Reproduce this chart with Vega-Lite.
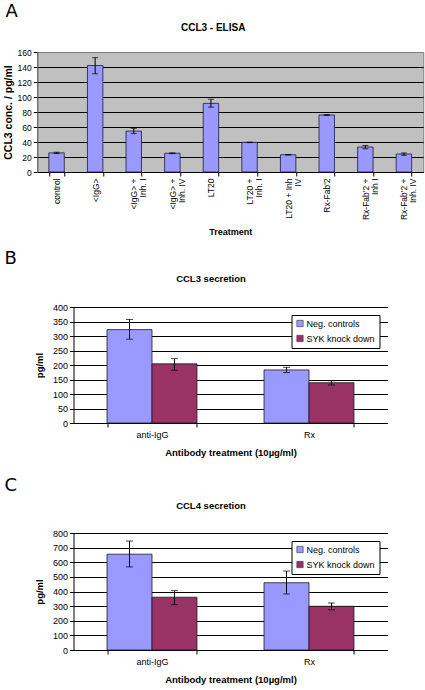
{
  "$schema": "https://vega.github.io/schema/vega-lite/v6.json",
  "padding": {"left": 2, "top": 2, "right": 2, "bottom": 2},
  "background": "white",
  "center": true,
  "spacing": 11,
  "resolve": {"scale": {"x": "independent", "y": "independent", "color": "independent", "xOffset": "independent"}, "legend": {"color": "independent"}, "axis": {"x": "independent", "y": "independent"}},
  "config": {
    "font": "Liberation Sans",
    "view": {"stroke": null},
    "axis": {
      "labelFont": "Liberation Sans", "titleFont": "Liberation Sans",
      "labelColor": "#000", "titleColor": "#000", "tickColor": "#000", "domainColor": "#000",
      "gridColor": "#000", "gridOpacity": 1, "gridWidth": 1, "tickSize": 4, "tickWidth": 1, "domainWidth": 1,
      "titleFontWeight": "bold", "labelPadding": 2
    },
    "title": {"font": "Liberation Sans", "color": "#000"},
    "legend": {"labelFont": "Liberation Sans", "labelColor": "#000"}
  },
  "vconcat": [
    {
      "title": {"text": "A", "anchor": "start", "font": "DejaVu Sans", "fontSize": 18, "fontWeight": "normal", "dx": 3, "offset": 2},
      "resolve": {"scale": {"color": "independent"}, "legend": {"color": "independent"}},
      "vconcat": [
        {
          "title": {"text": "CCL3 - ELISA", "frame": "bounds", "anchor": "middle", "fontSize": 10, "fontWeight": "bold", "offset": 15},
          "width": 386,
          "height": 120,
          "view": {"fill": "#c0c0c0", "stroke": "#808080"},
          "data": {"values": [
            {"treatment": "control", "value": 25.5, "lo": 24.6, "hi": 26.4},
            {"treatment": "<IgG>", "value": 142, "lo": 131, "hi": 152.5},
            {"treatment": "<IgG> +\nInh. I", "value": 54.5, "lo": 51.2, "hi": 58.2},
            {"treatment": "<IgG> +\nInh. IV", "value": 25, "lo": 24.5, "hi": 25.5},
            {"treatment": "LT20", "value": 91.5, "lo": 86.5, "hi": 97},
            {"treatment": "LT20 +\nInh. I", "value": 39.5, "lo": 39.2, "hi": 39.8},
            {"treatment": "LT20 + Inh\nIV", "value": 23, "lo": 22.6, "hi": 23.4},
            {"treatment": "Rx-Fab'2", "value": 76, "lo": 75.5, "hi": 76.5},
            {"treatment": "Rx-Fab'2 +\nInh I", "value": 33.3, "lo": 31, "hi": 35.4},
            {"treatment": "Rx-Fab'2 +\nInh. IV", "value": 24, "lo": 22.3, "hi": 25.4}
          ]},
          "encoding": {
            "x": {
              "field": "treatment", "type": "nominal", "sort": null,
              "scale": {"paddingInner": 0.6, "paddingOuter": 0.3},
              "axis": {"title": "Treatment", "titleFontSize": 9, "titlePadding": 8, "labelAngle": -90, "labelExpr": "split(datum.label, '\\n')", "labelFontSize": 8.5, "labelLineHeight": 9, "tickBand": "extent", "labelPadding": 2, "labelLimit": 0}
            }
          },
          "layer": [
            {
              "mark": {"type": "bar", "fill": "#9999ff", "stroke": "#1a1a40", "strokeWidth": 0.8},
              "encoding": {"y": {"field": "value", "type": "quantitative", "title": "CCL3 conc. / pg/ml", "scale": {"domain": [0, 160], "nice": false}, "axis": {"values": [0, 20, 40, 60, 80, 100, 120, 140, 160], "grid": true, "gridColor": {"condition": {"test": "datum.value == 160", "value": "#808080"}, "value": "#000"}, "domainColor": "#606060", "labelFontSize": 8.5, "titleFontSize": 10.5, "titlePadding": 4}}}
            },
            {
              "mark": {"type": "rule", "color": "#000", "strokeWidth": 1},
              "encoding": {"y": {"field": "lo", "type": "quantitative", "title": "CCL3 conc. / pg/ml", "axis": {"values": [0, 20, 40, 60, 80, 100, 120, 140, 160], "grid": true, "gridColor": {"condition": {"test": "datum.value == 160", "value": "#808080"}, "value": "#000"}, "domainColor": "#606060", "labelFontSize": 8.5, "titleFontSize": 10.5, "titlePadding": 4}}, "y2": {"field": "hi"}}
            },
            {
              "mark": {"type": "tick", "color": "#000", "size": 6, "thickness": 1},
              "encoding": {"y": {"field": "lo", "type": "quantitative", "title": "CCL3 conc. / pg/ml", "axis": {"values": [0, 20, 40, 60, 80, 100, 120, 140, 160], "grid": true, "gridColor": {"condition": {"test": "datum.value == 160", "value": "#808080"}, "value": "#000"}, "domainColor": "#606060", "labelFontSize": 8.5, "titleFontSize": 10.5, "titlePadding": 4}}}
            },
            {
              "mark": {"type": "tick", "color": "#000", "size": 6, "thickness": 1},
              "encoding": {"y": {"field": "hi", "type": "quantitative", "title": "CCL3 conc. / pg/ml", "axis": {"values": [0, 20, 40, 60, 80, 100, 120, 140, 160], "grid": true, "gridColor": {"condition": {"test": "datum.value == 160", "value": "#808080"}, "value": "#000"}, "domainColor": "#606060", "labelFontSize": 8.5, "titleFontSize": 10.5, "titlePadding": 4}}}
            }
          ]
        }
      ]
    },
    {
      "spacing": 19,
      "resolve": {"scale": {"x": "independent", "y": "independent", "color": "independent", "xOffset": "independent"}, "legend": {"color": "independent"}, "axis": {"x": "independent", "y": "independent"}},
      "vconcat": [
        {
          "title": {"text": "B", "anchor": "start", "font": "DejaVu Sans", "fontSize": 18, "fontWeight": "normal", "dx": -30, "offset": 6},
          "resolve": {"scale": {"color": "independent"}, "legend": {"color": "independent"}},
          "vconcat": [
            {
              "title": {"text": "CCL3 secretion", "frame": "bounds", "anchor": "middle", "fontSize": 9.5, "fontWeight": "bold", "offset": 20},
              "width": 314,
              "height": 116,
              "data": {"values": [
                {"antibody": "anti-IgG", "series": "Neg. controls", "value": 322, "lo": 289, "hi": 357},
                {"antibody": "anti-IgG", "series": "SYK knock down", "value": 204, "lo": 182, "hi": 222},
                {"antibody": "Rx", "series": "Neg. controls", "value": 183, "lo": 174, "hi": 192},
                {"antibody": "Rx", "series": "SYK knock down", "value": 139, "lo": 131, "hi": 146}
              ]},
              "encoding": {
                "x": {
                  "field": "antibody", "type": "nominal", "sort": null,
                  "scale": {"paddingInner": 0.427, "paddingOuter": 0.2135},
                  "axis": {"title": "Antibody treatment (10µg/ml)", "titleFontSize": 9.5, "titlePadding": 8, "labelAngle": 0, "labelFontSize": 9, "tickBand": "extent", "labelPadding": 3}
                },
                "xOffset": {"field": "series", "type": "nominal", "sort": null, "scale": {"paddingInner": 0, "paddingOuter": 0}}
              },
              "layer": [
                {
                  "mark": {"type": "bar", "stroke": "#1a1a1a", "strokeWidth": 0.8},
                  "encoding": {
                    "y": {"field": "value", "type": "quantitative", "title": "pg/ml", "scale": {"domain": [0, 400], "nice": false}, "axis": {"values": [0, 50, 100, 150, 200, 250, 300, 350, 400], "grid": true, "labelFontSize": 9, "titleFontSize": 9.5, "titlePadding": 8}},
                    "color": {"field": "series", "type": "nominal", "sort": null, "scale": {"domain": ["Neg. controls", "SYK knock down"], "range": ["#9999ff", "#993366"]}, "legend": {"title": null, "orient": "top-right", "offset": 8, "fillColor": "white", "strokeColor": "#000", "padding": 4, "labelFontSize": 9, "symbolType": "square", "symbolSize": 40, "symbolStrokeColor": "#333", "symbolStrokeWidth": 0.6, "rowPadding": 5, "labelOffset": 2, "cornerRadius": 0}}
                  }
                },
                {
                  "mark": {"type": "rule", "color": "#000", "strokeWidth": 1},
                  "encoding": {"y": {"field": "lo", "type": "quantitative", "title": "pg/ml", "axis": {"values": [0, 50, 100, 150, 200, 250, 300, 350, 400], "grid": true, "labelFontSize": 9, "titleFontSize": 9.5, "titlePadding": 8}}, "y2": {"field": "hi"}}
                },
                {
                  "mark": {"type": "tick", "color": "#000", "size": 7, "thickness": 1},
                  "encoding": {"y": {"field": "lo", "type": "quantitative", "title": "pg/ml", "axis": {"values": [0, 50, 100, 150, 200, 250, 300, 350, 400], "grid": true, "labelFontSize": 9, "titleFontSize": 9.5, "titlePadding": 8}}}
                },
                {
                  "mark": {"type": "tick", "color": "#000", "size": 7, "thickness": 1},
                  "encoding": {"y": {"field": "hi", "type": "quantitative", "title": "pg/ml", "axis": {"values": [0, 50, 100, 150, 200, 250, 300, 350, 400], "grid": true, "labelFontSize": 9, "titleFontSize": 9.5, "titlePadding": 8}}}
                }
              ]
            }
          ]
        },
        {
          "title": {"text": "C", "anchor": "start", "font": "DejaVu Sans", "fontSize": 18, "fontWeight": "normal", "dx": -30, "offset": 6},
          "resolve": {"scale": {"color": "independent"}, "legend": {"color": "independent"}},
          "vconcat": [
            {
              "title": {"text": "CCL4 secretion", "frame": "bounds", "anchor": "middle", "fontSize": 9.5, "fontWeight": "bold", "offset": 19},
              "width": 314,
              "height": 117,
              "data": {"values": [
                {"antibody": "anti-IgG", "series": "Neg. controls", "value": 655, "lo": 568, "hi": 745},
                {"antibody": "anti-IgG", "series": "SYK knock down", "value": 361, "lo": 310, "hi": 406},
                {"antibody": "Rx", "series": "Neg. controls", "value": 460, "lo": 383, "hi": 540},
                {"antibody": "Rx", "series": "SYK knock down", "value": 299, "lo": 276, "hi": 322}
              ]},
              "encoding": {
                "x": {
                  "field": "antibody", "type": "nominal", "sort": null,
                  "scale": {"paddingInner": 0.427, "paddingOuter": 0.2135},
                  "axis": {"title": "Antibody treatment (10µg/ml)", "titleFontSize": 9.5, "titlePadding": 8, "labelAngle": 0, "labelFontSize": 9, "tickBand": "extent", "labelPadding": 3}
                },
                "xOffset": {"field": "series", "type": "nominal", "sort": null, "scale": {"paddingInner": 0, "paddingOuter": 0}}
              },
              "layer": [
                {
                  "mark": {"type": "bar", "stroke": "#1a1a1a", "strokeWidth": 0.8},
                  "encoding": {
                    "y": {"field": "value", "type": "quantitative", "title": "pg/ml", "scale": {"domain": [0, 800], "nice": false}, "axis": {"values": [0, 100, 200, 300, 400, 500, 600, 700, 800], "grid": true, "labelFontSize": 9, "titleFontSize": 9.5, "titlePadding": 8}},
                    "color": {"field": "series", "type": "nominal", "sort": null, "scale": {"domain": ["Neg. controls", "SYK knock down"], "range": ["#9999ff", "#993366"]}, "legend": {"title": null, "orient": "top-right", "offset": 8, "fillColor": "white", "strokeColor": "#000", "padding": 4, "labelFontSize": 9, "symbolType": "square", "symbolSize": 40, "symbolStrokeColor": "#333", "symbolStrokeWidth": 0.6, "rowPadding": 5, "labelOffset": 2, "cornerRadius": 0}}
                  }
                },
                {
                  "mark": {"type": "rule", "color": "#000", "strokeWidth": 1},
                  "encoding": {"y": {"field": "lo", "type": "quantitative", "title": "pg/ml", "axis": {"values": [0, 100, 200, 300, 400, 500, 600, 700, 800], "grid": true, "labelFontSize": 9, "titleFontSize": 9.5, "titlePadding": 8}}, "y2": {"field": "hi"}}
                },
                {
                  "mark": {"type": "tick", "color": "#000", "size": 7, "thickness": 1},
                  "encoding": {"y": {"field": "lo", "type": "quantitative", "title": "pg/ml", "axis": {"values": [0, 100, 200, 300, 400, 500, 600, 700, 800], "grid": true, "labelFontSize": 9, "titleFontSize": 9.5, "titlePadding": 8}}}
                },
                {
                  "mark": {"type": "tick", "color": "#000", "size": 7, "thickness": 1},
                  "encoding": {"y": {"field": "hi", "type": "quantitative", "title": "pg/ml", "axis": {"values": [0, 100, 200, 300, 400, 500, 600, 700, 800], "grid": true, "labelFontSize": 9, "titleFontSize": 9.5, "titlePadding": 8}}}
                }
              ]
            }
          ]
        }
      ]
    }
  ]
}
